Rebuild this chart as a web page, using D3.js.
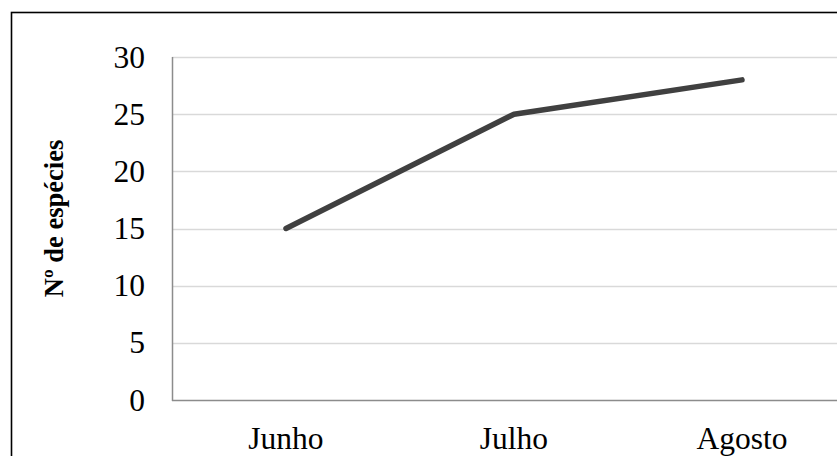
<!DOCTYPE html>
<html><head><meta charset="utf-8">
<script src="https://cdn.jsdelivr.net/npm/d3@7"></script>
<style>html,body{margin:0;padding:0;background:#fff;overflow:hidden}</style>
</head><body>
<svg id="c" width="837" height="456"></svg>
<script>
const categories = ["Junho", "Julho", "Agosto"];
const values = [15, 25, 28];
const yTicks = [0, 5, 10, 15, 20, 25, 30];
const yTitle = "Nº de espécies";

(function () {
const svg = d3.select("#c");
const pLeft = 172, pTop = 57, pBottom = 400, bandW = 228;
const x = d3.scaleBand().domain(categories).range([pLeft, pLeft + bandW * categories.length]);
const y = d3.scaleLinear().domain([0, 30]).range([pBottom, pTop]);
const serif = "'Liberation Serif','Times New Roman',serif";

svg.append("rect").attr("x", 11.5).attr("y", 12.5).attr("width", 900).attr("height", 600)
  .attr("fill", "#fff").attr("stroke", "#000").attr("stroke-width", 1.6);

// gridlines
svg.append("g").selectAll("line").data(yTicks.filter(d => d > 0)).join("line")
  .attr("x1", pLeft).attr("x2", 900)
  .attr("y1", d => Math.round(y(d)) + 0.5).attr("y2", d => Math.round(y(d)) + 0.5)
  .attr("stroke", "#d9d9d9").attr("stroke-width", 1.5);

// axes lines
svg.append("line").attr("x1", pLeft + 0.5).attr("x2", pLeft + 0.5).attr("y1", pTop).attr("y2", pBottom + 1)
  .attr("stroke", "#8c8c8c").attr("stroke-width", 1.5);
svg.append("line").attr("x1", pLeft).attr("x2", 900).attr("y1", pBottom + 0.5).attr("y2", pBottom + 0.5)
  .attr("stroke", "#8c8c8c").attr("stroke-width", 1.5);

// y tick labels
svg.append("g").selectAll("text").data(yTicks).join("text")
  .attr("x", 145).attr("y", d => y(d) + 10.5)
  .attr("text-anchor", "end").attr("font-family", serif).attr("font-size", 31.5)
  .attr("fill", "#000").text(d => d);

// x labels
svg.append("g").selectAll("text").data(categories).join("text")
  .attr("x", d => x(d) + x.bandwidth() / 2).attr("y", 449)
  .attr("text-anchor", "middle").attr("font-family", serif).attr("font-size", 31.5)
  .attr("fill", "#000").text(d => d);

// y title
svg.append("text").attr("transform", "translate(63,218.5) rotate(-90)")
  .attr("text-anchor", "middle").attr("font-family", serif).attr("font-weight", "bold")
  .attr("font-size", 26.5).attr("fill", "#000").text(yTitle);

// line
const line = d3.line().x((d, i) => x(categories[i]) + x.bandwidth() / 2).y(d => y(d));
svg.append("path").datum(values).attr("d", line)
  .attr("fill", "none").attr("stroke", "#404040").attr("stroke-width", 5.5)
  .attr("stroke-linecap", "round").attr("stroke-linejoin", "round");
})();
</script>
</body></html>
